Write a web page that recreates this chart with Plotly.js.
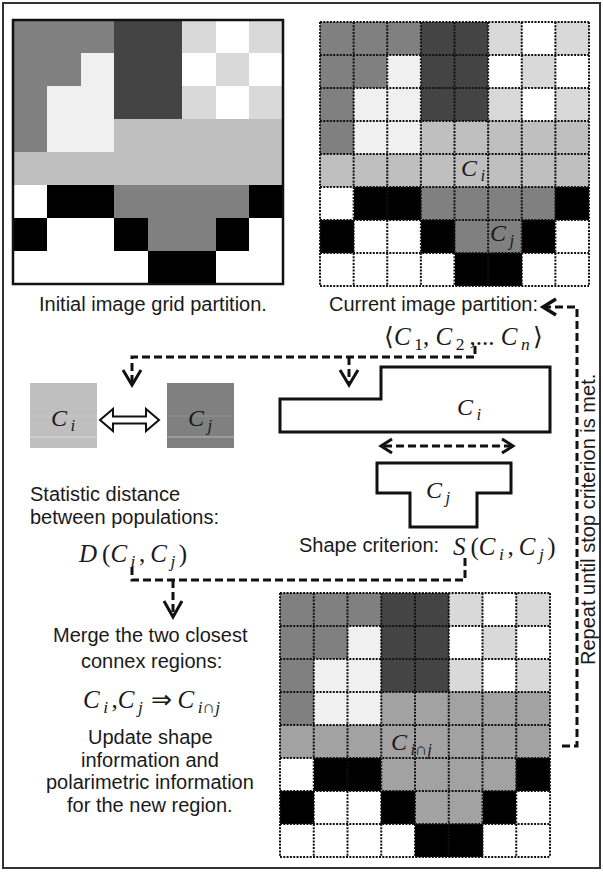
<!DOCTYPE html>
<html>
<head>
<meta charset="utf-8">
<script src="https://cdn.plot.ly/plotly-3.0.1.min.js"></script>
<style>html,body{margin:0;padding:0;background:#fff;}#chart{width:603px;height:872px;}</style>
</head>
<body>
<div id="chart"></div>
<script>
// ---- data: gray levels (0 = black, 255 = white) ----
const initialGrid = [
  [128,128,128, 68, 68,217,255,217],
  [128,128,240, 68, 68,255,217,255],
  [128,240,240, 68, 68,217,255,217],
  [128,240,240,191,191,191,191,191],
  [191,191,191,191,191,191,191,191],
  [255,  0,  0,128,128,128,128,  0],
  [  0,255,255,  0,128,128,  0,255],
  [255,255,255,255,  0,  0,255,255]
];
const currentGrid = [
  [128,128,128, 68, 68,217,255,217],
  [128,128,240, 68, 68,255,217,255],
  [128,240,240, 68, 68,217,255,217],
  [128,240,240,191,191,191,191,191],
  [191,191,191,191,191,191,191,191],
  [255,  0,  0,128,128,128,128,  0],
  [  0,255,255,  0,128,128,  0,255],
  [255,255,255,255,  0,  0,255,255]
];
const mergedGrid = [
  [128,128,128, 68, 68,217,255,217],
  [128,128,240, 68, 68,255,217,255],
  [128,240,240, 68, 68,217,255,217],
  [128,240,240,162,162,162,162,162],
  [162,162,162,162,162,162,162,162],
  [255,  0,  0,162,162,162,162,  0],
  [  0,255,255,  0,162,162,  0,255],
  [255,255,255,255,  0,  0,255,255]
];
const regionValues = [191, 128];   // C_i, C_j populations

// ---- layout geometry ----
const G1 = {l:13, t:20, r:283, b:284};
const G2 = {l:320, t:22, r:589, b:286};
const G3 = {l:280, t:593, r:550, b:857};
const grey = v => `rgb(${v},${v},${v})`;

function hm(z, g) {
  const cw = (g.r - g.l) / z[0].length, ch = (g.b - g.t) / z.length;
  return {type:'heatmap', z:z, x0:g.l + cw/2, dx:cw, y0:g.t + ch/2, dy:ch,
    colorscale:[[0,'rgb(0,0,0)'],[1,'rgb(255,255,255)']], zmin:0, zmax:255,
    showscale:false, hoverinfo:'skip', zsmooth:false};
}
const traces = [hm(initialGrid,G1), hm(currentGrid,G2), hm(mergedGrid,G3)];

const shapes = [];
const INK = '#111';
// outer frame
shapes.push({type:'rect', x0:3, y0:3, x1:600, y1:868, line:{color:'#333', width:2}});
// grid 1 solid border
shapes.push({type:'rect', x0:G1.l, y0:G1.t, x1:G1.r, y1:G1.b, line:{color:INK, width:2.5}});
// dotted grid lines
function dotted(g) {
  for (let k = 0; k <= 8; k++) {
    const x = g.l + k*(g.r-g.l)/8, y = g.t + k*(g.b-g.t)/8;
    shapes.push({type:'line', x0:x, x1:x, y0:g.t, y1:g.b, line:{color:INK, width:2, dash:'2px,1.3px'}});
    shapes.push({type:'line', x0:g.l, x1:g.r, y0:y, y1:y, line:{color:INK, width:2, dash:'2px,1.3px'}});
  }
}
dotted(G2); dotted(G3);

// region boxes
const boxes = [{x0:30, x1:97}, {x0:167, x1:234}];
boxes.forEach((b, i) => {
  shapes.push({type:'rect', x0:b.x0, x1:b.x1, y0:383, y1:448, fillcolor:grey(regionValues[i]), line:{width:0}});
  shapes.push({type:'line', x0:b.x0, x1:b.x1, y0:437, y1:437, line:{color:'rgba(255,255,255,0.45)', width:1}});
  shapes.push({type:'line', x0:b.x0, x1:b.x1, y0:416, y1:416, line:{color:'rgba(255,255,255,0.15)', width:1}});
});
// hollow double arrow
shapes.push({type:'path', path:'M100,420 L113,409 L113,416.5 L146,416.5 L146,409 L159,420 L146,431 L146,423.5 L113,423.5 L113,431 Z',
  fillcolor:'#fff', line:{color:INK, width:2}});

// shapes C_i and C_j
shapes.push({type:'path', path:'M280,399 L381,399 L381,367 L550,367 L550,432 L280,432 Z', line:{color:INK, width:3}});
shapes.push({type:'path', path:'M377,463 L511,463 L511,493 L477,493 L477,527 L410,527 L410,493 L377,493 Z', line:{color:INK, width:3}});

const DASH = {color:INK, width:3, dash:'8px,4px'};
const SOLID = {color:INK, width:3};
// top connector
shapes.push({type:'path', path:'M475,346 L475,357 L132,357 L132,384', line:DASH});
shapes.push({type:'path', path:'M349,357 L349,384', line:DASH});
shapes.push({type:'path', path:'M123,370 L132,385 L141,370', line:SOLID});
shapes.push({type:'path', path:'M340,370 L349,385 L358,370', line:SOLID});
// shape criterion double arrow
shapes.push({type:'path', path:'M384,446 L510,446', line:DASH});
shapes.push({type:'path', path:'M392,439 L381,446 L392,453', line:SOLID});
shapes.push({type:'path', path:'M502,439 L513,446 L502,453', line:SOLID});
// bottom connector
shapes.push({type:'path', path:'M132,567 L132,580 L465,580 L465,558', line:DASH});
shapes.push({type:'path', path:'M173,580 L173,615', line:DASH});
shapes.push({type:'path', path:'M164,601 L173,617 L182,601', line:SOLID});
// loop back
shapes.push({type:'path', path:'M562,746 L577,746 L577,307 L546,307', line:DASH});
shapes.push({type:'path', path:'M556,299 L543,307 L556,315', line:{color:INK, width:3.5}});

// ---- text ----
const SANS = 'Liberation Sans, Arial, sans-serif';
const SERIF = 'Liberation Serif, Times New Roman, serif';
const ann = [];
function t(text, x, y, opts) {
  ann.push(Object.assign({text:text, x:x, y:y, xref:'x', yref:'y', showarrow:false,
    xanchor:'center', yanchor:'middle', font:{family:SANS, size:20, color:'#1a1a1a'}}, opts||{}));
}
const C = s => `<i>C</i><sub>\u2009<i>${s}</i>\u2009</sub>`;
const serif = sz => ({font:{family:SERIF, size:sz, color:'#1a1a1a'}});

t('Initial image grid partition.', 153, 304);
t('Current image partition:', 433, 304);
t('⟨<i>C</i><sub>\u20091</sub>, <i>C</i><sub>\u20092</sub>\u2009,... ' + C('n') + '⟩', 463, 338, serif(25));
t(C('i'), 64, 420, serif(24));
t(C('j'), 201, 420, serif(24));
t(C('i'), 470, 409, serif(24));
t(C('j'), 439, 492, serif(24));
t(C('i'), 474, 170, serif(24));
t(C('j'), 503, 235, serif(24));
t(C('i∩j'), 413, 744, serif(24));
t('Statistic distance', 28, 494, {xanchor:'left'});
t('between populations:', 28, 517, {xanchor:'left'});
t('<i>D</i>\u2009(' + C('i') + ',\u2009' + C('j') + ')', 132, 555, serif(25));
t('Shape criterion:', 369, 545);
t('<i>S</i>\u2009(' + C('i') + ',\u2009' + C('j') + ')', 504, 548, serif(25));
t('Merge the two closest', 150, 635);
t('connex regions:', 151, 661);
t(C('i') + ',' + C('j') + '\u2009⇒\u2009' + C('i∩j'), 153, 701, serif(25));
t('Update shape', 150, 737);
t('information and', 150, 760);
t('polarimetric information', 150, 782);
t('for the new region.', 150, 805);
t('Repeat until stop criterion is met.', 588, 520, {textangle:-90});

const layout = {
  width:603, height:872, margin:{l:0, r:0, t:0, b:0},
  paper_bgcolor:'#fff', plot_bgcolor:'#fff', showlegend:false, hovermode:false,
  xaxis:{range:[0,603], visible:false, fixedrange:true},
  yaxis:{range:[872,0], visible:false, fixedrange:true},
  shapes:shapes, annotations:ann
};
Plotly.newPlot('chart', traces, layout, {staticPlot:true, displayModeBar:false});
</script>
</body>
</html>
